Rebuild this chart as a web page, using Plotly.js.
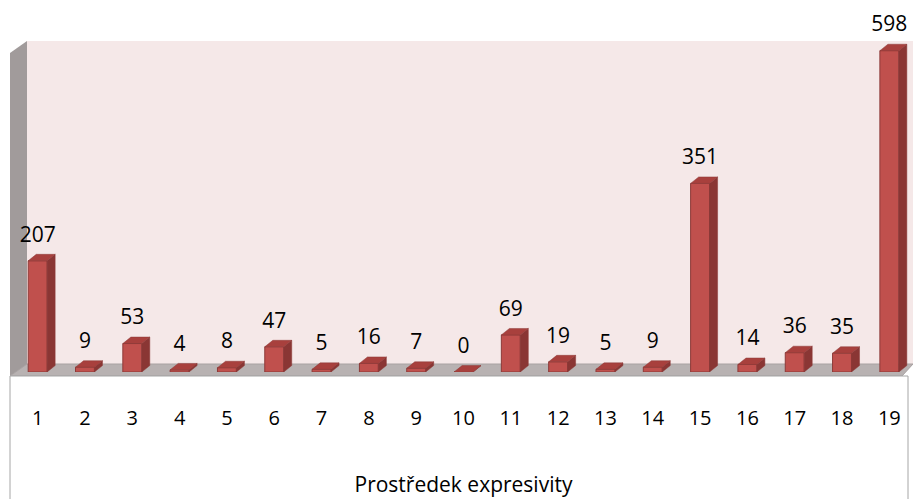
<!DOCTYPE html>
<html>
<head>
<meta charset="utf-8">
<script src="https://cdn.plot.ly/plotly-3.0.1.min.js"></script>
<style>html,body{margin:0;padding:0;background:#fff;}#chart{width:913px;height:499px;}</style>
</head>
<body>
<div id="chart"></div>
<script>
// ---- data ----
var categories = ["1","2","3","4","5","6","7","8","9","10","11","12","13","14","15","16","17","18","19"];
var values = [207, 9, 53, 4, 8, 47, 5, 16, 7, 0, 69, 19, 5, 9, 351, 14, 36, 35, 598];
var axisTitle = "Prostředek expresivity";

// ---- style constants ----
var half = 0.2;      // half width of bar front (x units)
var dx = 0.17;       // depth offset in x units
var dy = 12;         // depth offset in y units
var labelLift = 14;  // extra lift of data labels (y units)
var frontColor = "#c0504d", sideColor = "#8a3634", topColor = "#a8403d", edgeColor = "#8c3a38";

var xs = categories.map(function(c, i){ return i + 1; });

// side faces and top faces built from data
var sideX = [], sideY = [], topX = [], topY = [];
xs.forEach(function(x, i){
  var v = values[i];
  sideX.push(x+half, x+half+dx, x+half+dx, x+half, x+half, null);
  sideY.push(0, dy, v+dy, v, 0, null);
  topX.push(x-half, x+half, x+half+dx, x-half+dx, x-half, null);
  topY.push(v, v, v+dy, v+dy, v, null);
});

var traces = [
  {type:"bar", x:xs, y:values, width:2*half,
   marker:{color:frontColor, line:{color:edgeColor, width:1}}, hoverinfo:"skip"},
  {type:"scatter", mode:"lines", x:sideX, y:sideY, fill:"toself", fillcolor:sideColor,
   line:{color:edgeColor, width:0.5}, hoverinfo:"skip"},
  {type:"scatter", mode:"lines", x:topX, y:topY, fill:"toself", fillcolor:topColor,
   line:{color:edgeColor, width:0.5}, hoverinfo:"skip"},
  {type:"scatter", mode:"text", x:xs, y:values.map(function(v){return v+dy+labelLift;}),
   text:values.map(String), textposition:"top center", cliponaxis:false,
   textfont:{family:"Open Sans, sans-serif", size:21, color:"#000"}, hoverinfo:"skip"}
];

// plot area in pixels (kept at same scale: 331px per 616 units)
var L=14, T=5, W=899, H=367;
var yMax = H * 616 / 331;
function px(p){ return (p-L)/W; }
function py(p){ return (T+H-p)/H; }

var shapes = [
  // back wall
  {type:"rect", xref:"paper", yref:"paper", x0:px(27), x1:px(913), y0:py(365), y1:py(41),
   fillcolor:"#f5e8e8", line:{width:0}, layer:"below"},
  // left wall
  {type:"path", xref:"paper", yref:"paper", layer:"below",
   path:"M"+px(10)+","+py(53)+" L"+px(27)+","+py(41)+" L"+px(27)+","+py(365)+" L"+px(10)+","+py(376)+" Z",
   fillcolor:"#a19b9b", line:{width:0}},
  // floor
  {type:"path", xref:"paper", yref:"paper", layer:"below",
   path:"M"+px(10)+","+py(376)+" L"+px(27)+","+py(364)+" L"+px(913)+","+py(364)+" L"+px(902)+","+py(376)+" Z",
   fillcolor:"#b8b2b2", line:{color:"#a8a2a2", width:1}},
  // label box
  {type:"rect", xref:"paper", yref:"paper", x0:px(10), x1:px(908), y0:py(376), y1:py(510),
   fillcolor:"#ffffff", line:{color:"#a6a6a6", width:1}, layer:"below"}
];

var layout = {
  width:913, height:499,
  margin:{l:L, r:0, t:T, b:499-T-H, pad:0},
  paper_bgcolor:"#ffffff", plot_bgcolor:"rgba(0,0,0,0)",
  showlegend:false, bargap:0,
  font:{family:"Open Sans, sans-serif", color:"#000"},
  xaxis:{range:[0.5,19.5], tickmode:"array", tickvals:xs, ticktext:categories,
    showgrid:false, zeroline:false, showline:false, ticks:"", ticklabelstandoff:32,
    tickfont:{family:"Open Sans, sans-serif", size:20, color:"#000"},
    title:{text:axisTitle, standoff:47, font:{family:"Open Sans, sans-serif", size:21, color:"#000"}},
    fixedrange:true, automargin:false},
  yaxis:{range:[0,yMax], showgrid:false, zeroline:false, showline:false, showticklabels:false, ticks:"", fixedrange:true},
  shapes:shapes
};

Plotly.newPlot("chart", traces, layout, {displayModeBar:false, staticPlot:true});
</script>
</body>
</html>
